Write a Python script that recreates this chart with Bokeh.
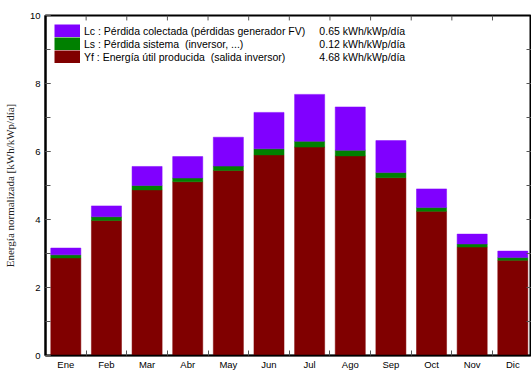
from bokeh.plotting import figure
from bokeh.models import (Range1d, FixedTicker, SingleIntervalTicker,
                          Legend, LegendItem, Label, ColumnDataSource)
from bokeh.embed import file_html
from bokeh.resources import INLINE

# ---- data ----
months = ["Ene", "Feb", "Mar", "Abr", "May", "Jun", "Jul", "Ago", "Sep", "Oct", "Nov", "Dic"]
yf = [2.87, 3.97, 4.87, 5.11, 5.44, 5.90, 6.13, 5.87, 5.23, 4.24, 3.19, 2.80]
ls = [0.09, 0.11, 0.13, 0.11, 0.13, 0.18, 0.17, 0.17, 0.15, 0.11, 0.09, 0.08]
lc = [0.20, 0.32, 0.56, 0.63, 0.85, 1.07, 1.38, 1.27, 0.94, 0.55, 0.29, 0.19]

legend_labels = ["Lc : Pérdida colectada (pérdidas generador FV)",
                 "Ls : Pérdida sistema  (inversor, ...)",
                 "Yf : Energía útil producida  (salida inversor)"]
legend_values = ["0.65 kWh/kWp/día", "0.12 kWh/kWp/día", "4.68 kWh/kWp/día"]

# ---- styles / layout ----
C_LC = "#8000FF"
C_LS = "#008000"
C_YF = "#800000"
SANS = "Liberation Sans"
SERIF = "Liberation Serif"
TICK_C = "#555555"

X0, X1 = 0.5, 12.46
Y0, Y1 = 0.0, 10.0
W, H = 531, 372
B_L, B_R, B_T, B_B = 43, 0, 15, 13
px_x = (W - B_L - B_R) / (X1 - X0)   # pixels per x unit
px_y = (H - B_T - B_B) / (Y1 - Y0)   # pixels per y unit
TICK_LEN = 5
LEG_FONT = "10.5px"

xs = list(range(1, len(months) + 1))
bounds = [i + 0.5 for i in xs[:-1]]
source = ColumnDataSource(dict(x=xs, yf=yf, ls=ls, lc=lc))

p = figure(width=W, height=H, output_backend="svg", toolbar_location=None,
           x_range=Range1d(X0, X1), y_range=Range1d(Y0, Y1),
           min_border_left=B_L, min_border_right=B_R, min_border_top=B_T, min_border_bottom=B_B,
           background_fill_color="white", border_fill_color="white")
p.grid.visible = False
p.outline_line_color = "black"
p.outline_line_width = 2

p.vbar_stack(["yf", "ls", "lc"], x="x", width=0.74, source=source,
             fill_color=[C_YF, C_LS, C_LC], line_color=[C_YF, C_LS, C_LC], line_width=0.5)

# bottom axis: labels at centres, tick marks at month boundaries
xa = p.xaxis[0]
xa.ticker = FixedTicker(ticks=xs, minor_ticks=bounds)
xa.major_label_overrides = {i: m for i, m in zip(xs, months)}
xa.major_tick_in = 0
xa.major_tick_out = 0
xa.minor_tick_in = TICK_LEN
xa.minor_tick_out = 0
xa.minor_tick_line_color = TICK_C
xa.axis_line_color = "black"
xa.axis_line_width = 1.5
xa.major_label_standoff = 3
xa.major_label_text_font = SANS
xa.major_label_text_font_size = "9.5px"
xa.major_label_text_color = "black"

# left axis
ya = p.yaxis[0]
ya.ticker = SingleIntervalTicker(interval=2, num_minor_ticks=2)
ya.major_tick_in = TICK_LEN
ya.major_tick_out = 0
ya.minor_tick_in = TICK_LEN
ya.minor_tick_out = 0
ya.major_tick_line_color = TICK_C
ya.minor_tick_line_color = TICK_C
ya.axis_line_color = "black"
ya.axis_line_width = 2
ya.major_label_standoff = 5
ya.major_label_text_font = SANS
ya.major_label_text_font_size = "9.5px"
ya.major_label_text_color = "black"
ya.axis_label = "Energía normalizada [kWh/kWp/día]"
ya.axis_label_text_font = SERIF
ya.axis_label_text_font_style = "normal"
ya.axis_label_text_font_size = "11px"
ya.axis_label_text_color = "#222222"
ya.axis_label_standoff = 11

# inward tick marks on the top and right edges of the frame
p.segment(x0=bounds, y0=[Y1] * len(bounds), x1=bounds,
          y1=[Y1 - TICK_LEN / px_y] * len(bounds), line_color=TICK_C, line_width=1)
y_minor = list(range(1, 10))
p.segment(x0=[X1] * len(y_minor), y0=y_minor, x1=[X1 - TICK_LEN / px_x] * len(y_minor),
          y1=y_minor, line_color=TICK_C, line_width=1)

# legend (swatches drawn as thick butt-capped lines so they touch)
nan = float("nan")
leg_renderers = [p.line(x=[nan], y=[nan], line_width=13, line_color=c, line_cap="butt")
                 for c in (C_LC, C_LS, C_YF)]
legend = Legend(items=[LegendItem(label=t, renderers=[r]) for t, r in zip(legend_labels, leg_renderers)],
                location="top_left", margin=9, padding=0, spacing=0,
                glyph_width=26, glyph_height=13, label_height=13, label_standoff=4,
                label_text_font=SANS, label_text_font_size=LEG_FONT, label_text_color="black",
                border_line_alpha=0, background_fill_alpha=0)
p.add_layout(legend)

# value column of the legend (pixel offsets from the frame's top-left corner)
val_dx = 275
row_dy = [15.5, 28.5, 41.5]
for t, dy in zip(legend_values, row_dy):
    p.add_layout(Label(x=X0 + val_dx / px_x, y=Y1 - dy / px_y, text=t, text_font=SANS,
                       text_font_size=LEG_FONT, text_baseline="middle", text_color="black"))

open("out.html", "w").write(file_html(p, INLINE))
